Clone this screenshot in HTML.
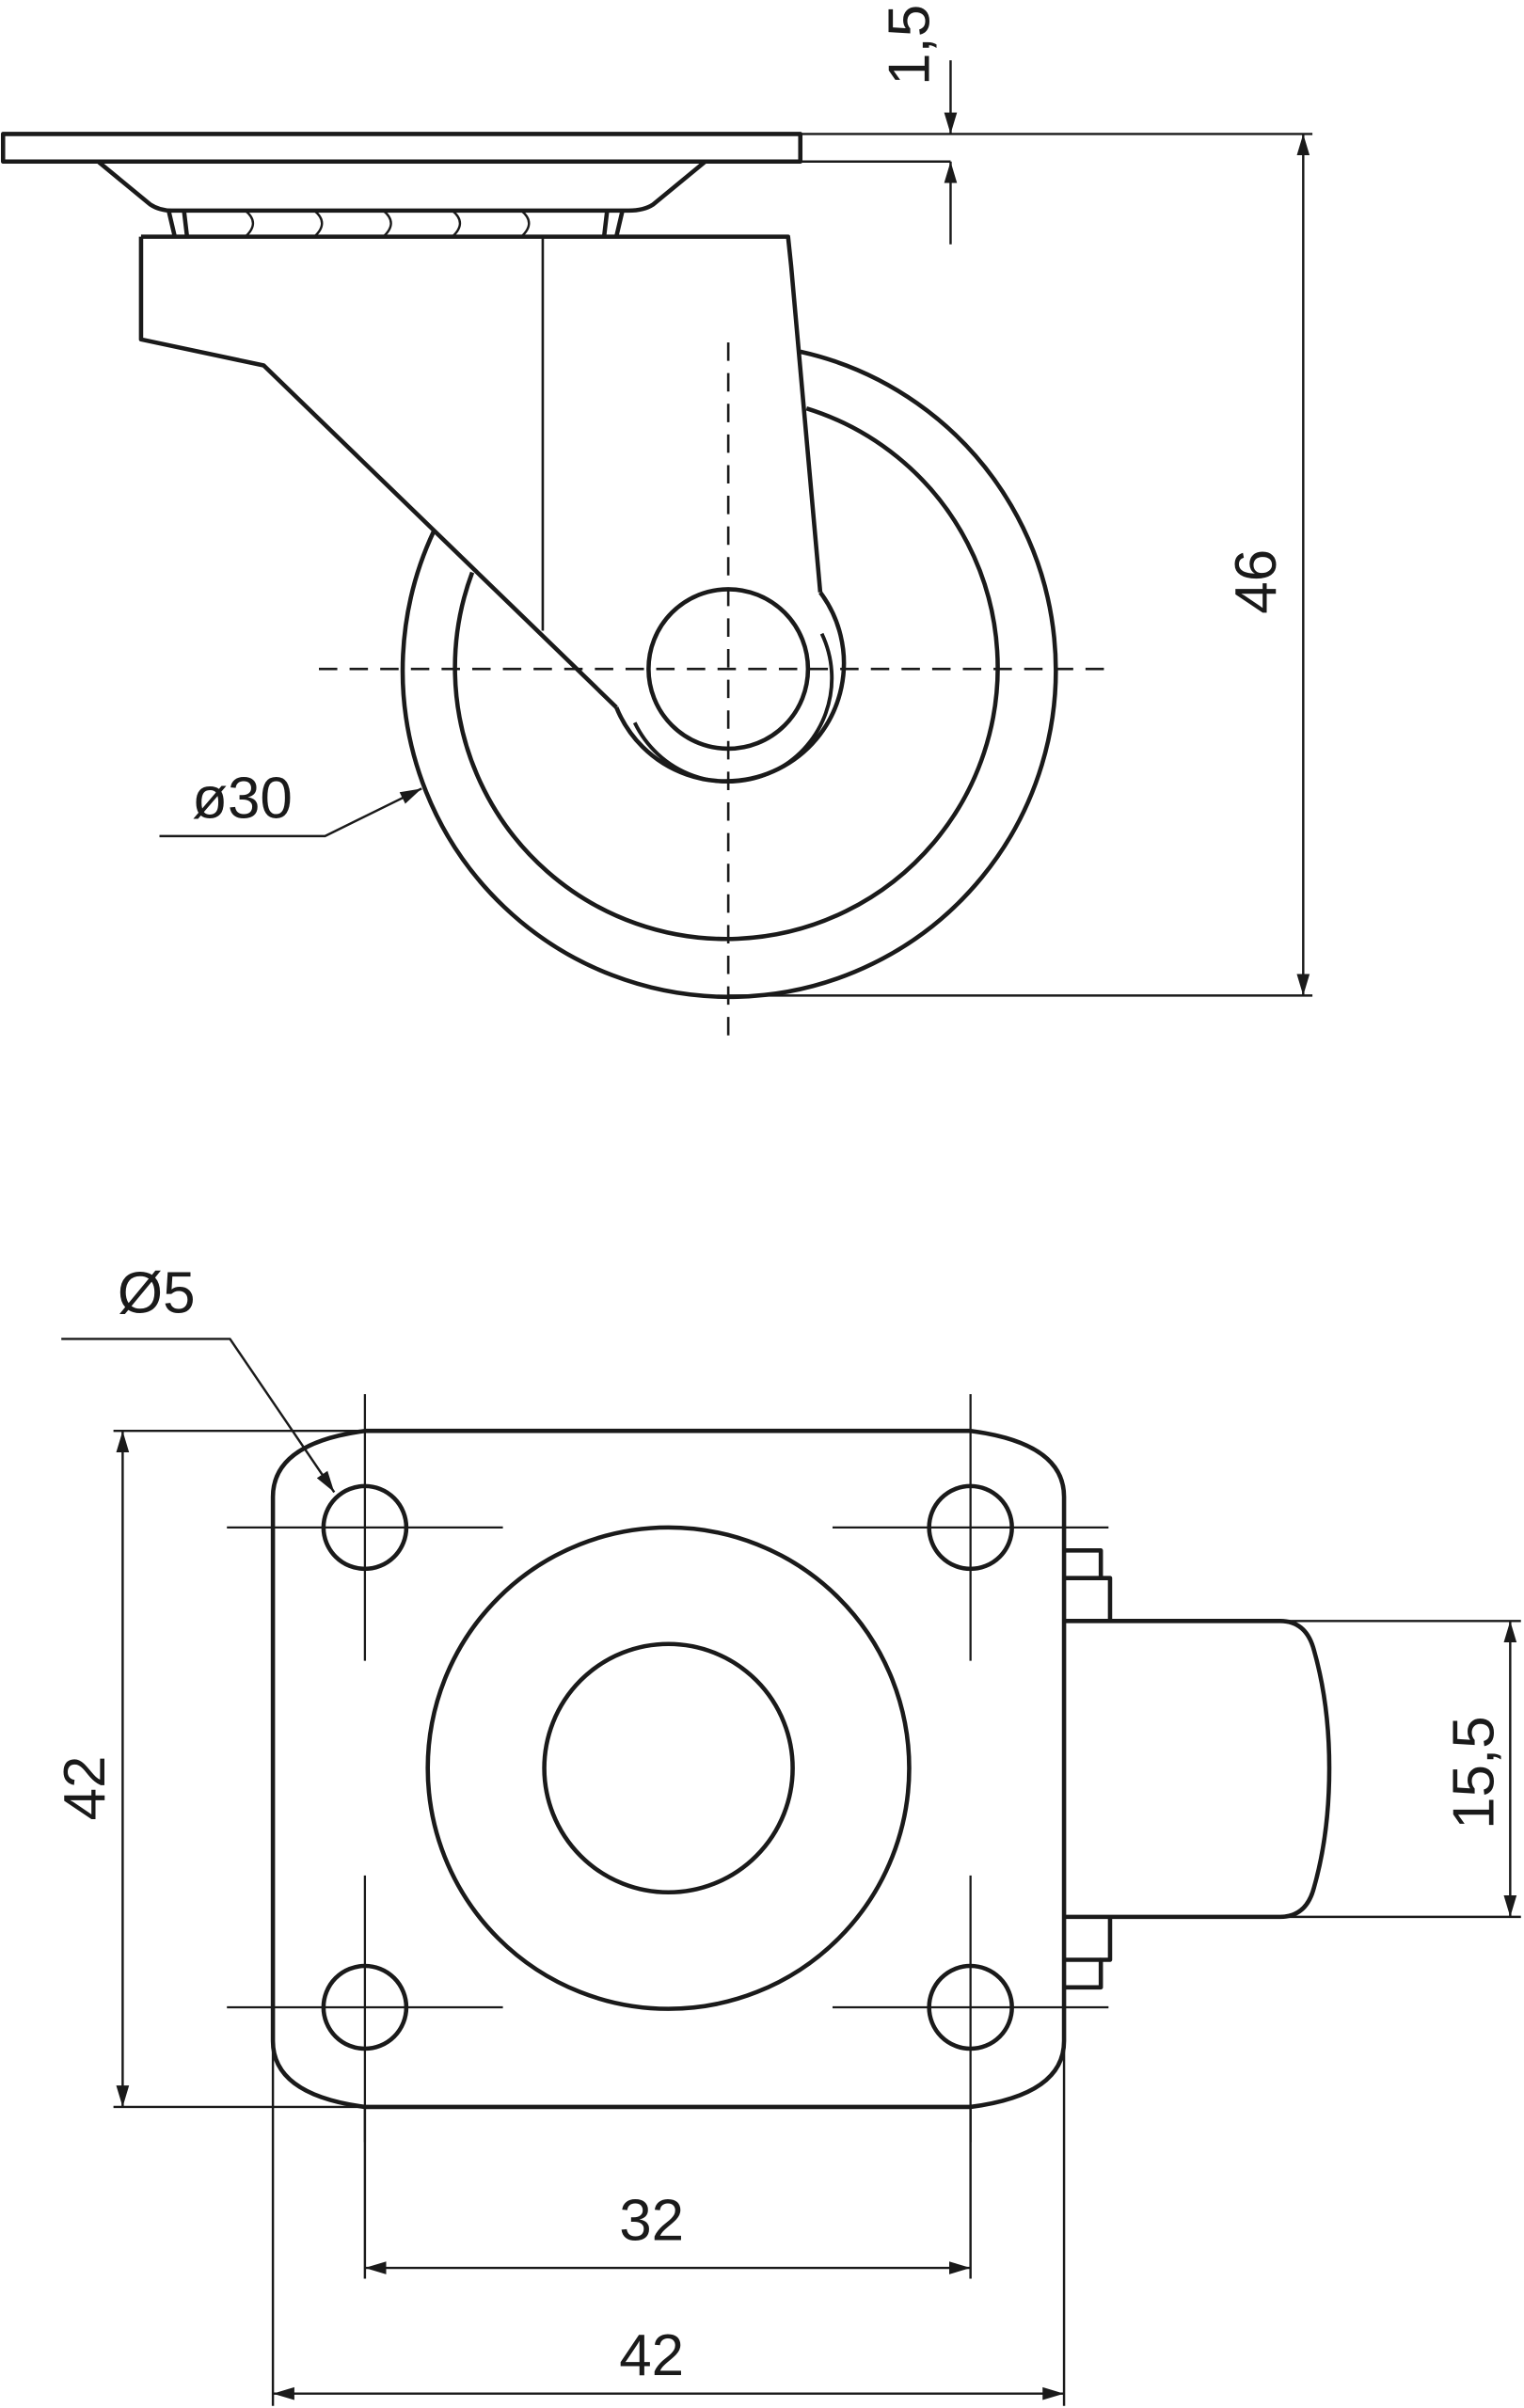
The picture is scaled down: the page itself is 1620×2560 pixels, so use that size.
<!DOCTYPE html>
<html><head><meta charset="utf-8"><style>
html,body{margin:0;padding:0;background:#fff}
svg{display:block}
text{font-family:"Liberation Sans",sans-serif;font-size:38px;fill:#1a1a1a}
</style></head><body>
<svg width="1620" height="2560" viewBox="0 0 994 1568" xmlns="http://www.w3.org/2000/svg">
<defs>
<marker id="a" viewBox="0 0 10 10" refX="10" refY="5" markerWidth="14" markerHeight="14" markerUnits="userSpaceOnUse" orient="auto-start-reverse"><path d="M0,2 L10,5 L0,8 Z" fill="#1a1a1a"/></marker>
</defs>
<g fill="none" stroke="#1a1a1a" stroke-width="2.8" stroke-linejoin="round">
<!-- TOP VIEW -->
<rect x="2" y="86" width="520" height="18" fill="#fff"/>
<path d="M64,104 L98,132 Q104,136 112,136 L410,136 Q420,136 426,132 L460,104"/>
<path d="M110,136 L114,153 M406,136 L402,153 M120,136 L122,153 M396,136 L394,153"/>
<path d="M160,136 q10,8 0,17 M205,136 q10,8 0,17 M250,136 q10,8 0,17 M295,136 q10,8 0,17 M340,136 q10,8 0,17" stroke-width="1.5"/>
<!-- wheel -->
<path d="M283,345 A213,213 0 1 0 522,228"/>
<path d="M308,372 A177,177 0 1 0 526,265"/>
<path d="M402,460 A77,77 0 1 0 535,385"/>
<path d="M414,470 A64,64 0 1 0 536,412" stroke-width="2.4"/>
<circle cx="475" cy="435" r="52"/>
<!-- fork -->
<path d="M92,153 L514,153 L516,172 L535,385" />
<path d="M92,153 L92,220 L172,237 L402,460"/>
<line x1="354" y1="153" x2="354" y2="410" stroke-width="1.6"/>
<!-- center lines -->
<g stroke-width="1.6" stroke-dasharray="12,8">
<line x1="208" y1="435" x2="728" y2="435"/>
<line x1="475" y1="222" x2="475" y2="680"/>
</g>
<!-- dims top -->
<g stroke-width="1.5">
<line x1="522" y1="86" x2="856" y2="86"/>
<line x1="475" y1="648" x2="856" y2="648"/>
<line x1="850" y1="86" x2="850" y2="648" marker-start="url(#a)" marker-end="url(#a)"/>
<line x1="522" y1="104" x2="620" y2="104"/>
<line x1="620" y1="38" x2="620" y2="86" marker-end="url(#a)"/>
<line x1="620" y1="158" x2="620" y2="104" marker-end="url(#a)"/>
<polyline points="104,544 212,544 275,513" marker-end="url(#a)"/>
</g>
<!-- BOTTOM VIEW -->
<path d="M238,932 L633,932 Q694,940 694,975 L694,1330 Q694,1365 633,1373 L238,1373 Q178,1365 178,1330 L178,975 Q178,940 238,932 Z"/>
<g>
<circle cx="238" cy="995" r="27"/><circle cx="633" cy="995" r="27"/>
<circle cx="238" cy="1308" r="27"/><circle cx="633" cy="1308" r="27"/>
</g>
<g stroke-width="1.4">
<line x1="148" y1="995" x2="328" y2="995"/><line x1="238" y1="908" x2="238" y2="1082"/>
<line x1="543" y1="995" x2="723" y2="995"/><line x1="633" y1="908" x2="633" y2="1082"/>
<line x1="148" y1="1308" x2="328" y2="1308"/><line x1="238" y1="1222" x2="238" y2="1396"/>
<line x1="543" y1="1308" x2="723" y2="1308"/><line x1="633" y1="1222" x2="633" y2="1396"/>
</g>
<circle cx="436" cy="1152" r="157"/>
<circle cx="436" cy="1152" r="81"/>
<path d="M694,1056 L835,1056 Q852,1056 857,1075 Q867,1110 867,1152 Q867,1195 857,1230 Q852,1249 835,1249 L694,1249"/>
<path d="M694,1010 L718,1010 L718,1028 L724,1028 L724,1056"/>
<path d="M694,1028 L718,1028"/>
<path d="M694,1295 L718,1295 L718,1277 L724,1277 L724,1249"/>
<path d="M694,1277 L718,1277"/>
<!-- dims bottom -->
<g stroke-width="1.5">
<line x1="74" y1="932" x2="238" y2="932"/>
<line x1="74" y1="1373" x2="238" y2="1373"/>
<line x1="80" y1="932" x2="80" y2="1373" marker-start="url(#a)" marker-end="url(#a)"/>
<line x1="238" y1="1373" x2="238" y2="1485"/>
<line x1="633" y1="1373" x2="633" y2="1485"/>
<line x1="238" y1="1478" x2="633" y2="1478" marker-start="url(#a)" marker-end="url(#a)"/>
<line x1="178" y1="1330" x2="178" y2="1568"/>
<line x1="694" y1="1330" x2="694" y2="1568"/>
<line x1="178" y1="1560" x2="694" y2="1560" marker-start="url(#a)" marker-end="url(#a)"/>
<line x1="835" y1="1056" x2="992" y2="1056"/>
<line x1="835" y1="1249" x2="992" y2="1249"/>
<line x1="985" y1="1056" x2="985" y2="1249" marker-start="url(#a)" marker-end="url(#a)"/>
<polyline points="40,872 150,872 218,972" marker-end="url(#a)"/>
</g>
</g>
<!-- labels -->
<text transform="translate(832,378) rotate(-90)" text-anchor="middle">46</text>
<text transform="translate(606,28) rotate(-90)" text-anchor="middle">1,5</text>
<text x="158" y="532" text-anchor="middle">ø30</text>
<text x="102" y="855" text-anchor="middle">Ø5</text>
<text transform="translate(68,1165) rotate(-90)" text-anchor="middle">42</text>
<text x="425" y="1460" text-anchor="middle">32</text>
<text x="425" y="1548" text-anchor="middle">42</text>
<text transform="translate(974,1155) rotate(-90)" text-anchor="middle">15,5</text>
</svg>
</body></html>
